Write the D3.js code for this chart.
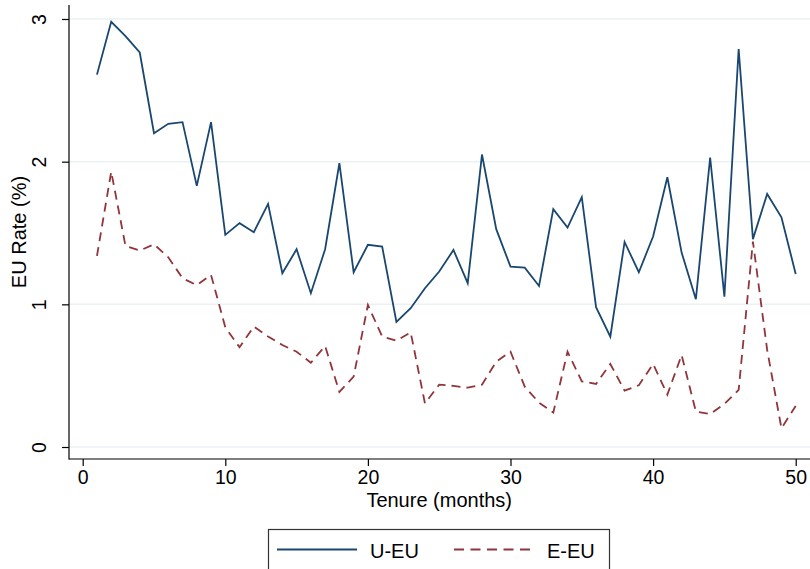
<!DOCTYPE html>
<html>
<head>
<meta charset="utf-8">
<script src="https://cdn.jsdelivr.net/npm/d3@7"></script>
<style>
  html, body { margin: 0; padding: 0; background: #fff; }
  svg { display: block; font-family: "Liberation Sans", Arial, Helvetica, sans-serif; }
</style>
</head>
<body>
<svg id="chart" width="810" height="569"></svg>
<script>
// tenure months 1..50
const tenure = d3.range(1, 51);

const uEU = [
  2.61, 2.98, 2.88, 2.765, 2.20, 2.265, 2.277, 1.83, 2.277, 1.487,
  1.569, 1.506, 1.704, 1.218, 1.386, 1.078, 1.386, 1.989, 1.225, 1.417,
  1.405, 0.877, 0.973, 1.113, 1.23, 1.381, 1.148, 2.05, 1.527, 1.264,
  1.257, 1.129, 1.667, 1.538, 1.751, 0.98, 0.773, 1.437, 1.225, 1.475,
  1.891, 1.363, 1.036, 2.029, 1.054, 2.79, 1.457, 1.774, 1.61, 1.213
];

const eEU = [
  1.339, 1.93, 1.41, 1.377, 1.421, 1.33, 1.183, 1.134, 1.206, 0.839,
  0.699, 0.844, 0.774, 0.715, 0.668, 0.591, 0.708, 0.386, 0.493, 0.996,
  0.774, 0.745, 0.804, 0.306, 0.437, 0.428, 0.416, 0.437, 0.598, 0.668,
  0.423, 0.311, 0.241, 0.668, 0.46, 0.442, 0.582, 0.395, 0.433, 0.582,
  0.367, 0.645, 0.248, 0.231, 0.302, 0.40, 1.44, 0.68, 0.131, 0.288
];

const xTicks = [0, 10, 20, 30, 40, 50];
const yTicks = [0, 1, 2, 3];
const seriesNames = ["U-EU", "E-EU"];

const navy = "#1a476f";
const maroon = "#90353b";

const svg = d3.select("#chart");

// plot frame
const frame = { left: 69, right: 810, top: 5, bottom: 459 };

const x = d3.scaleLinear().domain([0, 50]).range([82.7, 795.7]);
const y = d3.scaleLinear().domain([0, 3]).range([447, 19]);

// gridlines
svg.append("g")
  .selectAll("line")
  .data(yTicks)
  .join("line")
  .attr("x1", frame.left)
  .attr("x2", frame.right)
  .attr("y1", d => y(d))
  .attr("y2", d => y(d))
  .attr("stroke", "#eaf2f3")
  .attr("stroke-width", 1.5);

// axes
const xAxis = svg.append("g")
  .attr("transform", `translate(0,${frame.bottom})`)
  .call(d3.axisBottom(x).tickValues(xTicks).tickSize(7).tickPadding(4).tickFormat(d3.format("d")));
xAxis.select(".domain").remove();
xAxis.selectAll("line").attr("stroke", "#000").attr("stroke-width", 1.2);
xAxis.selectAll("text")
  .attr("font-size", 19.5)
  .attr("font-family", "Liberation Sans, Arial, sans-serif")
  .attr("fill", "#000");

const yAxis = svg.append("g")
  .attr("transform", `translate(${frame.left},0)`)
  .call(d3.axisLeft(y).tickValues(yTicks).tickSize(7).tickFormat(d3.format("d")));
yAxis.select(".domain").remove();
yAxis.selectAll("line").attr("stroke", "#000").attr("stroke-width", 1.2);
yAxis.selectAll("text")
  .attr("font-size", 19.5)
  .attr("font-family", "Liberation Sans, Arial, sans-serif")
  .attr("fill", "#000")
  .attr("text-anchor", "middle")
  .attr("dy", 0)
  .attr("x", null)
  .attr("transform", "translate(-23,0) rotate(-90)");

// frame lines (left + bottom)
svg.append("line")
  .attr("x1", frame.left).attr("x2", frame.left)
  .attr("y1", frame.top).attr("y2", frame.bottom + 0.5)
  .attr("stroke", "#000").attr("stroke-width", 1.2);
svg.append("line")
  .attr("x1", frame.left).attr("x2", frame.right)
  .attr("y1", frame.bottom).attr("y2", frame.bottom)
  .attr("stroke", "#000").attr("stroke-width", 1.2);

// lines
const line = d3.line()
  .x((d, i) => x(tenure[i]))
  .y(d => y(d));

svg.append("path")
  .datum(uEU)
  .attr("fill", "none")
  .attr("stroke", navy)
  .attr("stroke-width", 1.8)
  .attr("stroke-linejoin", "miter")
  .attr("d", line);

svg.append("path")
  .datum(eEU)
  .attr("fill", "none")
  .attr("stroke", maroon)
  .attr("stroke-width", 1.8)
  .attr("stroke-dasharray", "9,6")
  .attr("d", line);

// axis titles
svg.append("text")
  .attr("x", (x(0) + x(50)) / 2)
  .attr("y", 507)
  .attr("text-anchor", "middle")
  .attr("font-size", 20)
  .text("Tenure (months)");

svg.append("text")
  .attr("transform", `translate(25.5,${(frame.top + frame.bottom) / 2}) rotate(-90)`)
  .attr("text-anchor", "middle")
  .attr("font-size", 20)
  .text("EU Rate (%)");

// legend
const legend = svg.append("g").attr("transform", "translate(268,529)");
legend.append("rect")
  .attr("x", 0.5).attr("y", 0.5)
  .attr("width", 341).attr("height", 52)
  .attr("fill", "#fff")
  .attr("stroke", "#333")
  .attr("stroke-width", 1.2);

const items = [
  { name: seriesNames[0], color: navy, dash: null, lx: 9, tx: 102 },
  { name: seriesNames[1], color: maroon, dash: "10,6.5", lx: 186, tx: 279 }
];
items.forEach(it => {
  legend.append("line")
    .attr("x1", it.lx).attr("x2", it.lx + 80)
    .attr("y1", 20.5).attr("y2", 20.5)
    .attr("stroke", it.color)
    .attr("stroke-width", 1.8)
    .attr("stroke-dasharray", it.dash);
  legend.append("text")
    .attr("x", it.tx)
    .attr("y", 28.5)
    .attr("font-size", 20)
    .text(it.name);
});
</script>
</body>
</html>
